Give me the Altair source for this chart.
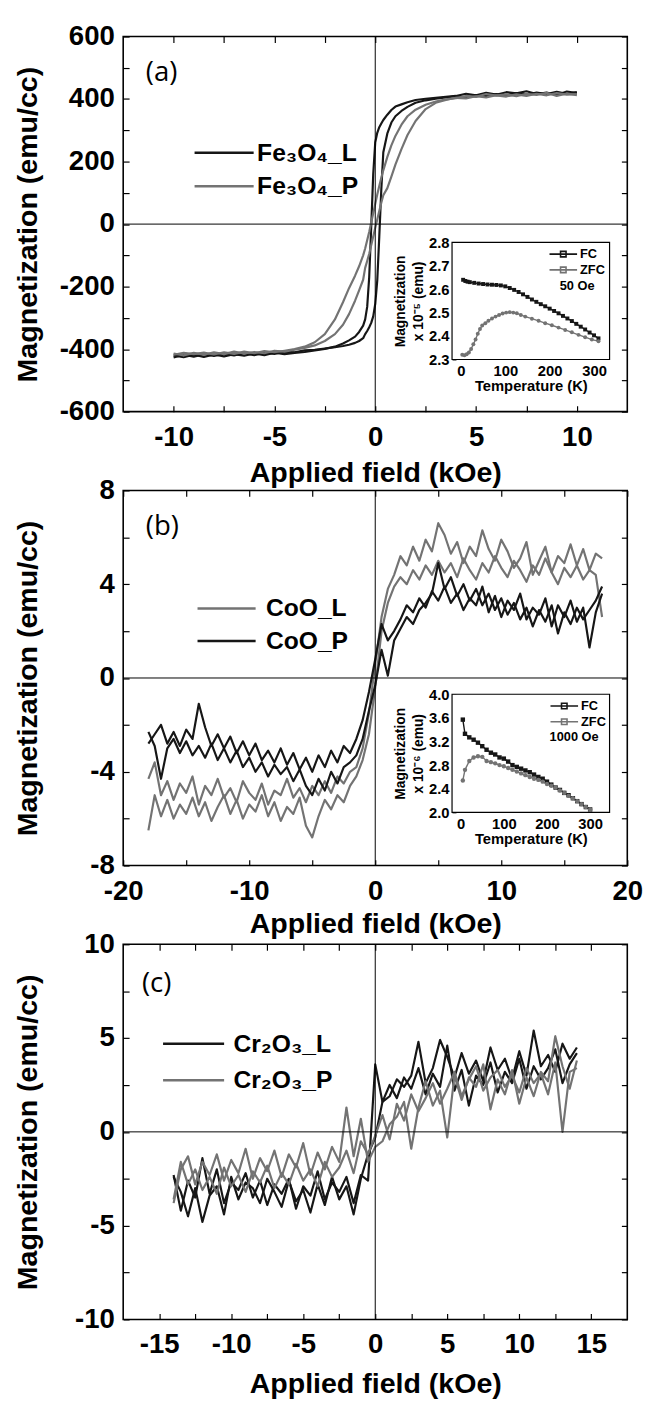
import altair as alt
import pandas as pd

FONT = "Liberation Sans"
INK = "#161616"
GREY = "#737373"
W, H = 512, 381

# ---------------- panel (a): Fe3O4 ----------------
FIELD_A = [10, 9.5, 9, 8.5, 8, 7.5, 7, 6.5, 6, 5.5, 5, 4.5, 4, 3.5, 3,
           2.5, 2, 1.6, 1.3, 1.0, 0.8, 0.6, 0.4, 0.3, 0.2, 0.1, 0.0,
           -0.1, -0.2, -0.3, -0.4, -0.5, -0.6, -0.8, -1.0, -1.3, -1.6, -2.0, -2.5,
           -3, -3.5, -4, -4.5, -5, -5.5, -6, -6.5, -7, -7.5, -8, -8.5, -9, -9.5, -10]
FE_L_DOWN = [419, 424, 413, 421, 416, 425, 418, 422, 414, 420, 412, 417, 410, 407, 404,
             401, 397, 390, 383, 376, 365, 350, 333, 322, 310, 292, 262,
             160, -10, -170, -265, -305, -325, -345, -360, -372, -382, -392, -399,
             -404, -409, -412, -416, -411, -419, -414, -421, -416, -423, -417, -425, -418, -426, -420]
FE_L_UP = [-427, -418, -424, -416, -422, -415, -420, -413, -419, -411, -415, -408, -410, -404, -402,
           -398, -394, -390, -386, -380, -374, -365, -352, -342, -330, -316, -295,
           -255, -180, -40, 110, 230, 290, 325, 345, 362, 375, 388, 396,
           401, 405, 409, 406, 413, 410, 416, 412, 419, 414, 421, 416, 423, 417, 422]
FE_P_DOWN = [412, 418, 410, 420, 413, 417, 409, 415, 411, 416, 407, 410, 403, 399, 392,
             382, 366, 345, 318, 282, 252, 215, 172, 148, 122, 95, 65,
             35, 5, -25, -52, -78, -100, -135, -165, -205, -250, -305, -352,
             -378, -392, -400, -405, -410, -406, -413, -408, -415, -410, -417, -411, -416, -412, -418]
FE_P_UP = [-414, -420, -412, -418, -410, -416, -408, -414, -409, -413, -405, -408, -402, -396, -388,
           -374, -352, -322, -288, -245, -212, -178, -140, -118, -95, -68, -40,
           -12, 15, 42, 68, 92, 115, 152, 190, 240, 285, 330, 368,
           388, 397, 404, 402, 409, 405, 412, 408, 415, 410, 417, 412, 419, 414, 416]

# inset (a): 50 Oe
FC_A_T = [5, 10, 15, 20, 30, 40, 50, 60, 70, 80, 90, 100, 110, 120, 130, 140, 150, 160,
          170, 180, 190, 200, 210, 220, 230, 240, 250, 260, 270, 280, 290, 300, 310]
FC_A_M = [2.64, 2.635, 2.632, 2.63, 2.627, 2.624, 2.622, 2.62, 2.619, 2.618, 2.616, 2.612,
          2.605, 2.597, 2.588, 2.578, 2.567, 2.556, 2.546, 2.536, 2.527, 2.517, 2.507,
          2.497, 2.486, 2.475, 2.464, 2.452, 2.44, 2.428, 2.415, 2.403, 2.39]
ZFC_A_T = [3, 8, 13, 18, 23, 28, 33, 38, 43, 48, 55, 62, 70, 78, 86, 94, 102, 110, 118,
           126, 135, 145, 160, 175, 190, 205, 220, 235, 250, 265, 280, 295, 310]
ZFC_A_M = [2.32, 2.318, 2.322, 2.33, 2.345, 2.365, 2.385, 2.41, 2.43, 2.445, 2.455, 2.465,
           2.475, 2.483, 2.49, 2.496, 2.5, 2.502, 2.5, 2.497, 2.49, 2.483, 2.474, 2.465,
           2.455, 2.446, 2.436, 2.426, 2.416, 2.405, 2.395, 2.385, 2.378]

# ---------------- panel (b): CoO ----------------
FIELD_B = [18, 17.5, 17, 16.5, 16, 15.5, 15, 14.5, 14, 13.5, 13, 12.5, 12, 11.5, 11, 10.5,
           10, 9.5, 9, 8.5, 8, 7.5, 7, 6.5, 6, 5.5, 5, 4.5, 4, 3.5, 3, 2.5, 2, 1.5, 1, 0.5, 0,
           -0.5, -1, -1.5, -2, -2.5, -3, -3.5, -4, -4.5, -5, -5.5, -6, -6.5, -7, -7.5, -8,
           -8.5, -9, -9.5, -10, -10.5, -11, -11.5, -12, -12.5, -13, -13.5, -14, -14.5, -15,
           -15.5, -16, -16.5, -17, -17.5, -18]
COO_L_DOWN = [5.1, 5.3, 4.6, 5.5, 4.8, 5.7, 4.9, 5.2, 4.5, 5.6, 5.0, 4.4, 5.8, 5.1, 4.7,
              5.4, 5.9, 5.0, 5.5, 6.3, 5.2, 5.6, 4.9, 5.8, 5.3, 6.1, 6.6, 5.4, 5.9, 5.0,
              5.6, 4.8, 5.2, 4.4, 3.8, 2.6, 0.6,
              -1.5, -3.0, -3.8, -4.0, -4.5, -4.2, -4.9, -4.4, -5.0, -4.6, -5.3, -4.7, -5.1,
              -4.3, -5.0, -4.8, -5.4, -4.5, -5.2, -4.9, -4.4, -5.3, -4.7, -5.1, -4.3, -5.0,
              -4.6, -5.4, -4.2, -4.9, -4.5, -5.2, -4.4, -5.0, -3.6, -4.3]
COO_L_UP = [-6.5, -5.0, -5.9, -5.2, -6.0, -5.4, -5.8, -5.1, -5.9, -5.3,
            -6.1, -5.5, -5.0, -5.8, -5.2, -6.0, -5.4, -5.7, -5.0, -5.9,
            -5.3, -6.1, -5.5, -5.8, -5.1, -6.3, -6.8, -5.9, -5.2, -5.6,
            -5.0, -5.3, -4.6, -4.2, -3.5, -2.4, -0.4,
            2.0, 3.2, 3.9, 4.3, 4.0, 4.6, 4.2, 4.8, 4.4, 5.0,
            4.5, 4.9, 4.3, 5.1, 4.6, 4.2, 4.9, 4.5, 5.2, 4.7,
            4.3, 5.0, 4.6, 4.1, 4.8, 4.4, 5.1, 4.5, 4.0, 4.7,
            4.3, 4.8, 4.2, 4.6, 4.4, 2.6]
COO_P_DOWN = [3.6, 2.8, 1.3, 3.0, 2.4, 3.3, 2.6, 3.1, 2.2, 3.4,
              2.7, 3.0, 2.5, 3.6, 2.9, 3.3, 2.6, 3.5, 2.8, 3.9,
              3.1, 3.4, 2.9, 3.6, 3.2, 3.9, 3.3, 3.7, 3.0, 3.4,
              2.8, 3.1, 2.5, 2.0, 1.6, 2.3, 0.8,
              -0.6, -1.8, -2.6, -3.2, -2.9, -3.6, -3.1, -3.8, -3.3, -4.0,
              -3.4, -3.9, -3.2, -3.7, -3.0, -3.6, -3.1, -3.5, -2.8, -3.3,
              -2.7, -3.2, -2.5, -3.0, -2.4, -2.9, -2.1, -1.1, -2.6, -2.2,
              -2.9, -2.3, -2.8, -2.0, -2.4, -2.8]
COO_P_UP = [-2.3, -2.9, -4.3, -3.0, -2.6, -3.2, -2.7, -3.3, -2.9, -3.4,
            -2.8, -3.5, -3.0, -3.6, -3.1, -3.8, -3.4, -4.0, -3.6, -4.2,
            -3.7, -4.1, -3.8, -4.4, -3.9, -4.6, -5.0, -4.3, -4.8, -4.0,
            -4.5, -3.8, -3.6, -3.3, -2.6, -1.4, -0.3,
            1.2, 0.1, 1.6, 2.1, 2.6, 2.3, 2.9, 3.2, 3.6, 4.9,
            3.8, 4.3, 3.5, 4.0, 3.3, 3.8, 3.1, 3.6, 2.9, 3.4,
            2.7, 3.2, 2.5, 3.0, 2.2, 2.9, 2.4, 3.1, 1.9, 2.8,
            2.3, 3.0, 2.5, 2.9, 3.3, 3.9]

# inset (b): 1000 Oe
T_B = [5, 10, 20, 30, 40, 50, 60, 70, 80, 90, 100, 110, 120, 130, 140, 150, 160, 170,
       180, 190, 200, 210, 220, 230, 240, 250, 260, 270, 280, 290, 300]
FC_B_M = [3.57, 3.33, 3.27, 3.23, 3.18, 3.12, 3.06, 3.01, 2.98, 2.93, 2.91, 2.86, 2.8,
          2.77, 2.74, 2.71, 2.68, 2.64, 2.6, 2.57, 2.52, 2.47, 2.42, 2.38, 2.33, 2.29,
          2.24, 2.19, 2.14, 2.09, 2.05]
ZFC_B_M = [2.54, 2.72, 2.87, 2.93, 2.95, 2.94, 2.87, 2.85, 2.83, 2.8, 2.78, 2.75, 2.72,
           2.69, 2.66, 2.63, 2.6, 2.57, 2.55, 2.52, 2.48, 2.45, 2.42, 2.37, 2.33, 2.28,
           2.24, 2.19, 2.14, 2.09, 2.05]

# ---------------- panel (c): Cr2O3 ----------------
FIELD_C = [14, 13.5, 13, 12.5, 12, 11.5, 11, 10.5, 10, 9.5, 9, 8.5, 8, 7.5, 7, 6.5, 6,
           5.5, 5, 4.5, 4, 3.5, 3, 2.5, 2, 1.5, 1, 0.5, 0, -0.5, -1, -1.5, -2, -2.5, -3,
           -3.5, -4, -4.5, -5, -5.5, -6, -6.5, -7, -7.5, -8, -8.5, -9, -9.5, -10, -10.5,
           -11, -11.5, -12, -12.5, -13, -13.5, -14]
CR_L_DOWN = [4.5, 3.9, 4.7, 3.2, 4.1, 3.5, 5.4, 3.0, 4.3, 2.8,
             3.9, 3.3, 4.5, 2.7, 3.8, 3.1, 4.2, 2.9, 4.0, 4.9,
             3.4, 2.6, 4.8, 3.0, 2.4, 2.8, 1.9, 1.6, -0.3,
             -1.2, -2.5, -4.4, -2.9, -3.6, -2.4, -3.9, -2.8, -4.3, -3.1,
             -3.7, -2.6, -4.0, -3.2, -2.5, -3.8, -3.0, -2.7, -3.6, -2.4,
             -4.4, -2.9, -3.4, -4.8, -3.0, -4.5, -3.2, -2.4]
CR_L_UP = [-2.3, -4.2, -2.6, -3.5, -1.4, -3.3, -2.0, -3.8, -2.7, -3.1,
           -2.2, -3.5, -2.6, -3.9, -2.8, -3.3, -2.5, -4.1, -2.9, -3.4,
           -2.1, -3.6, -2.7, -3.2, -2.4, -3.8, -2.3, -2.6, 3.6,
           1.6, 2.5, 1.8, 2.9, 2.3, 3.4, 2.0, 3.1, 2.4, 4.6,
           2.2, 3.3, 1.4, 3.0, 2.5, 3.7, 2.1, 3.2, 2.6, 3.9,
           2.3, 3.5, 2.8, 3.4, 4.4, 2.6, 3.6, 4.2]
CR_P_DOWN = [3.8, 2.3, 3.5, 5.1, 2.7, 3.2, 1.9, 2.9, 1.5, 3.3,
             2.0, 2.8, 1.2, 3.6, 2.4, 2.9, 1.7, 3.0, -0.3, 2.2,
             1.4, 2.7, 1.3, -0.9, 1.6, 0.8, 0.4, -0.5, -0.8,
             -1.6, 0.7, -1.3, 1.3, -1.6, -0.8, -2.0, -1.1, -2.3, -0.6,
             -1.9, -1.2, -2.4, -1.0, -2.1, -1.4, -2.5, -0.9, -2.2, -1.5,
             -2.6, -1.2, -2.3, -1.6, -2.8, -1.3, -2.0, -3.8]
CR_P_UP = [-3.6, -1.6, -2.8, -2.0, -3.1, -2.4, -3.3, -1.9, -2.9, -2.3,
           -3.2, -2.1, -2.7, -1.8, -3.0, -2.2, -2.8, -1.7, -2.6, -2.0,
           -2.9, -1.6, -2.4, -1.9, -1.0, -2.2, -0.5, -1.2, -0.2,
           0.9, -0.4, 1.5, 0.6, 2.0, 1.1, 1.8, 2.6, 1.5, 2.3,
           3.2, 1.9, 2.8, 3.5, 2.2, 2.9, 3.3, 2.4, 3.0, 2.1,
           3.4, 2.6, 3.1, 2.0, 3.7, 0.0, 3.2, 3.4]


def loop_frame(grid, curves):
    rows = []
    for name, down, up in curves:
        assert len(down) == len(grid) and len(up) == len(grid), name
        for branch, xs, ys in (("down", grid, down), ("up", grid[::-1], up)):
            for i, (x, y) in enumerate(zip(xs, ys)):
                rows.append({"H": x, "M": y, "sample": name, "branch": branch, "idx": i})
    return pd.DataFrame(rows)


def inset_frame(fc_t, fc_m, zfc_t, zfc_m):
    assert len(fc_t) == len(fc_m) and len(zfc_t) == len(zfc_m)
    rows = [{"T": t, "Mi": m, "curve": "FC"} for t, m in zip(fc_t, fc_m)]
    rows += [{"T": t, "Mi": m, "curve": "ZFC"} for t, m in zip(zfc_t, zfc_m)]
    return pd.DataFrame(rows)


ONE = pd.DataFrame({"k": [0]})
LINE_WITH_MARK = "M-1,0H1M-0.2,-0.2H0.2V0.2H-0.2Z"


def tick_axis(orient, values, step=None, title=None, tick=6, **extra):
    props = dict(orient=orient, values=values, domain=False, grid=False,
                 tickSize={"expr": str(-tick)}, tickColor="black", tickWidth=1.2)
    if step is None:
        props["labels"] = False
    else:
        props.update(labelExpr=f"abs(datum.value % {step}) < 0.000001 ? '' + datum.value : ''",
                     labelFont=FONT, labelFontSize=28, labelFontWeight="bold",
                     labelColor="black", labelFlush=False, labelOverlap=False)
    if title is None:
        props["title"] = None
    else:
        props.update(title=title, titleFont=FONT, titleFontSize=29,
                     titleFontWeight="bold", titleColor="black")
    props.update(extra)
    return alt.Axis(**props)


def inset_axis(orient, values, offset, title, **extra):
    props = dict(orient=orient, values=values, offset=offset, domain=False, grid=False,
                 tickSize={"expr": "-4"}, tickColor="black", tickWidth=1,
                 labelFont=FONT, labelFontSize=15, labelFontWeight="bold",
                 labelColor="black", labelFlush=False, labelOverlap=False,
                 title=title, titleFont=FONT, titleFontSize=15,
                 titleFontWeight="bold", titleColor="black")
    props.update(extra)
    return alt.Axis(**props)


def main_layer(cfg):
    sx = alt.Scale(domain=cfg["xdom"], nice=False, zero=False)
    sy = alt.Scale(domain=cfg["ydom"], nice=False, zero=False)
    xa = tick_axis("bottom", cfg["xvals"], cfg["xstep"], "Applied field (kOe)",
                   labelPadding=18, titleY=cfg["title_y"], titleBaseline="top")
    ya = tick_axis("left", cfg["yvals"], cfg["ystep"], "Magnetization (emu/cc)",
                   labelPadding=15, titleX=-82, titleAngle=270, titleBaseline="bottom")
    lg = cfg["legend"]
    lines = alt.Chart(cfg["df"]).mark_line(strokeWidth=2.2, strokeJoin="round").encode(
        x=alt.X("H:Q", scale=sx, axis=xa),
        y=alt.Y("M:Q", scale=sy, axis=ya),
        color=alt.Color("sample:N",
                        scale=alt.Scale(domain=cfg["names"], range=cfg["colors"]),
                        legend=alt.Legend(orient="none", legendX=lg[0], legendY=lg[1],
                                          title=None, symbolType="stroke",
                                          symbolSize=lg[2] ** 2, symbolStrokeWidth=2.6,
                                          clipHeight=26, rowPadding=lg[3],
                                          labelOffset=lg[4], padding=0,
                                          labelFont=FONT, labelFontSize=25,
                                          labelFontWeight="bold", labelColor="black")),
        detail="branch:N",
        order=alt.Order("idx:Q"),
    )
    zero_v = alt.Chart(ONE).mark_rule(color="black", strokeWidth=1).encode(
        x=alt.XDatum(0, type="quantitative", scale=sx,
                     axis=tick_axis("top", cfg["xvals"])))
    zero_h = alt.Chart(ONE).mark_rule(color="black", strokeWidth=1).encode(
        y=alt.YDatum(0, type="quantitative", scale=sy,
                     axis=tick_axis("right", cfg["yvals"])))
    tag = alt.Chart(pd.DataFrame({"t": [cfg["tag"]]})).mark_text(
        font="Open Sans", fontSize=28, align="left", baseline="middle", color="black"
    ).encode(text="t:N", x=alt.value(cfg["tag_xy"][0]), y=alt.value(cfg["tag_xy"][1]))
    return alt.layer(lines, zero_v, zero_h, tag).resolve_axis(x="independent", y="independent")


def inset_layer(ins):
    ix = alt.Scale(domain=ins["xdom"], range=ins["xrange"], nice=False, zero=False)
    iy = alt.Scale(domain=ins["ydom"], range=ins["yrange"], nice=False, zero=False)
    ixa = inset_axis("bottom", [0, 50, 100, 150, 200, 250, 300], -(H - ins["yrange"][0]),
                     "Temperature (K)", labelExpr="datum.value % 100 === 0 ? datum.label : ''",
                     labelPadding=8, titlePadding=1)
    iya = inset_axis("left", ins["yvals"], -ins["xrange"][0], ins["ytitle"], format=".1f",
                     labelPadding=7, titlePadding=3, titleFontSize=14, titleLineHeight=18)
    idf = ins["df"]
    box = alt.Chart(ONE).mark_rect(fill="white", stroke="black", strokeWidth=1.2).encode(
        x=alt.XDatum(ins["xdom"][0], type="quantitative", scale=ix, axis=ixa),
        x2=alt.X2Datum(ins["xdom"][1]),
        y=alt.YDatum(ins["ydom"][0], type="quantitative", scale=iy, axis=iya),
        y2=alt.Y2Datum(ins["ydom"][1]),
    )
    il = ins["legend"]
    ilines = alt.Chart(idf).mark_line(strokeWidth=1.4).encode(
        x=alt.X("T:Q", scale=ix, axis=ixa),
        y=alt.Y("Mi:Q", scale=iy, axis=iya),
        color=alt.Color("curve:N", scale=alt.Scale(domain=["FC", "ZFC"], range=[INK, GREY]),
                        legend=alt.Legend(orient="none", legendX=il[0], legendY=il[1],
                                          title=None, symbolType=LINE_WITH_MARK,
                                          symbolSize=28 ** 2, symbolStrokeWidth=1.6,
                                          clipHeight=14, rowPadding=2,
                                          labelOffset=2, padding=0, labelFont=FONT,
                                          labelFontSize=13, labelFontWeight="bold",
                                          labelColor="black")),
    )
    pts_fc = alt.Chart(idf).transform_filter("datum.curve === 'FC'").mark_point(
        shape="square", filled=True, size=ins["msize"], color=INK, opacity=1
    ).encode(x=alt.X("T:Q", scale=ix, axis=ixa), y=alt.Y("Mi:Q", scale=iy, axis=iya))
    pts_zfc = alt.Chart(idf).transform_filter("datum.curve === 'ZFC'").mark_point(
        shape="circle", filled=True, size=ins["msize"], color=GREY, opacity=1
    ).encode(x=alt.X("T:Q", scale=ix, axis=ixa), y=alt.Y("Mi:Q", scale=iy, axis=iya))
    note = alt.Chart(pd.DataFrame({"t": [ins["note"]]})).mark_text(
        font=FONT, fontSize=13, fontWeight="bold", align="center", baseline="middle",
        color="black"
    ).encode(text="t:N", x=alt.value(ins["note_xy"][0]), y=alt.value(ins["note_xy"][1]))
    return alt.layer(box, ilines, pts_fc, pts_zfc, note)


def panel(cfg, ins=None):
    main = main_layer(cfg)
    if ins is None:
        return main.properties(width=W, height=H)
    return alt.layer(main, inset_layer(ins)).resolve_scale(
        x="independent", y="independent", color="independent"
    ).properties(width=W, height=H)


pa = panel(dict(
    df=loop_frame(FIELD_A, [("Fe₃O₄_L", FE_L_DOWN, FE_L_UP), ("Fe₃O₄_P", FE_P_DOWN, FE_P_UP)]),
    names=["Fe₃O₄_L", "Fe₃O₄_P"], colors=[INK, GREY],
    xdom=[-12.5, 12.5], ydom=[-600, 600],
    xvals=[-10, -7.5, -5, -2.5, 0, 2.5, 5, 7.5, 10], xstep=5,
    yvals=list(range(-600, 601, 100)), ystep=200,
    title_y=48, legend=(71, 105, 60, 8, 2), tag="(a)", tag_xy=(23, 37),
), dict(df=inset_frame(FC_A_T, FC_A_M, ZFC_A_T, ZFC_A_M),
        xdom=[-20, 335], xrange=[334, 494], ydom=[2.3, 2.8], yrange=[328, 209],
        yvals=[2.3, 2.4, 2.5, 2.6, 2.7, 2.8], ytitle=["Magnetization", "x 10⁻⁵ (emu)"],
        legend=(432, 214), note="50 Oe", note_xy=(461, 253), msize=16))

pb = panel(dict(
    df=loop_frame(FIELD_B, [("CoO_L", COO_L_DOWN, COO_L_UP), ("CoO_P", COO_P_DOWN, COO_P_UP)]),
    names=["CoO_L", "CoO_P"], colors=[GREY, INK],
    xdom=[-20, 20], ydom=[-8, 8],
    xvals=[-20, -15, -10, -5, 0, 5, 10, 15, 20], xstep=10,
    yvals=[-8, -6, -4, -2, 0, 2, 4, 6, 8], ystep=4,
    title_y=45, legend=(74, 107, 59, 7, 9), tag="(b)", tag_xy=(23, 37),
), dict(df=inset_frame(T_B, FC_B_M, T_B, ZFC_B_M),
        xdom=[-20, 345], xrange=[334, 494], ydom=[2.0, 4.0], yrange=[327, 207],
        yvals=[2.0, 2.4, 2.8, 3.2, 3.6, 4.0], ytitle=["Magnetization", "x 10⁻⁶ (emu)"],
        legend=(433, 212), note="1000 Oe", note_xy=(458, 250), msize=20))

pc = panel(dict(
    df=loop_frame(FIELD_C, [("Cr₂O₃_L", CR_L_DOWN, CR_L_UP), ("Cr₂O₃_P", CR_P_DOWN, CR_P_UP)]),
    names=["Cr₂O₃_L", "Cr₂O₃_P"], colors=[INK, GREY],
    xdom=[-17.5, 17.5], ydom=[-10, 10],
    xvals=[-15, -12.5, -10, -7.5, -5, -2.5, 0, 2.5, 5, 7.5, 10, 12.5, 15], xstep=5,
    yvals=[-10, -7.5, -5, -2.5, 0, 2.5, 5, 7.5, 10], ystep=5,
    title_y=51, legend=(39, 88, 62, 11, 8), tag="(c)", tag_xy=(19, 40),
))

chart = alt.vconcat(pa, pb, pc, spacing=80, bounds="flush").resolve_scale(
    x="independent", y="independent", color="independent"
).properties(
    padding={"left": 5, "top": 3, "right": 2, "bottom": 0}
).configure_view(stroke="black", strokeWidth=1.6)

chart.save("out.html", embed_options={"renderer": "svg", "actions": False})
